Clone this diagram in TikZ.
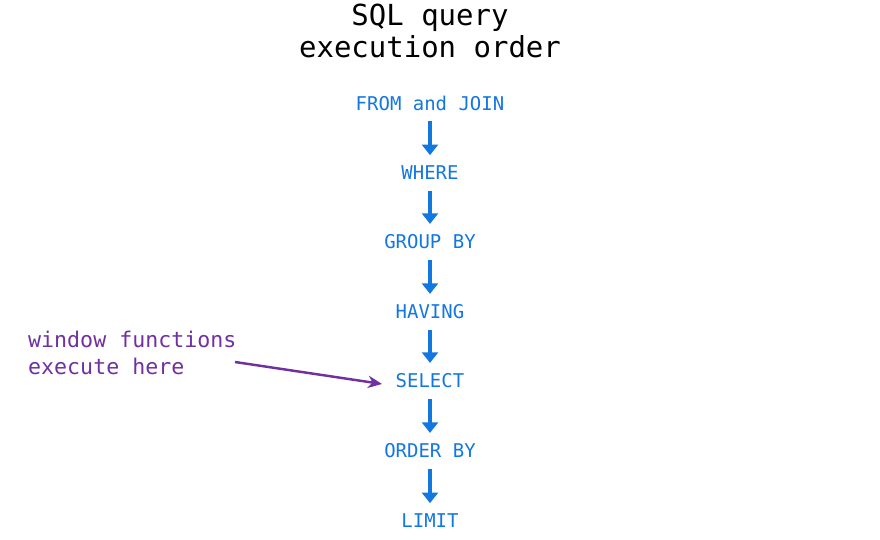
\documentclass[tikz,border=0pt]{standalone}
\usepackage{fontspec}
\setmonofont{DejaVu Sans Mono}
\usepackage{tikz}
\usetikzlibrary{arrows.meta}
\definecolor{stepblue}{HTML}{1377E0}
\definecolor{notepurple}{HTML}{7030A0}
\begin{document}
\begin{tikzpicture}[x=0.02cm,y=-0.02cm,
    stage/.style={text=stepblue,font=\ttfamily\fontsize{10.8}{12}\selectfont,inner sep=1pt},
    flow/.style={draw=stepblue,line width=2.2pt,-{Triangle[length=6pt,width=9pt]}},
    note/.style={text=notepurple,font=\ttfamily\fontsize{12.3}{15}\selectfont,align=left,anchor=west}]
\useasboundingbox (0,0) rectangle (880,540);
\node[font=\ttfamily\fontsize{16.5}{18.5}\selectfont,align=center] (title) at (430,31) {SQL query\\execution order};
\node[stage] (a) at (430,103) {FROM and JOIN};
\node[stage] (b) at (430,173) {WHERE};
\node[stage] (c) at (430,242) {GROUP BY};
\node[stage] (d) at (430,312) {HAVING};
\node[stage] (e) at (430,381) {SELECT};
\node[stage] (f) at (430,451) {ORDER BY};
\node[stage] (g) at (430,521) {LIMIT};
\foreach \u/\v in {a/b,b/c,c/d,d/e,e/f,f/g}
    \draw[flow] ([yshift=-5pt]\u.south) -- ([yshift=5pt]\v.north);
\node[note] (win) at (22,353) {window functions\\execute here};
\coordinate (tip) at (382,384);
\draw[notepurple,line width=1.4pt,-{Stealth[length=8pt,width=7pt]}] (235,362) -- (tip);
\end{tikzpicture}
\end{document}
